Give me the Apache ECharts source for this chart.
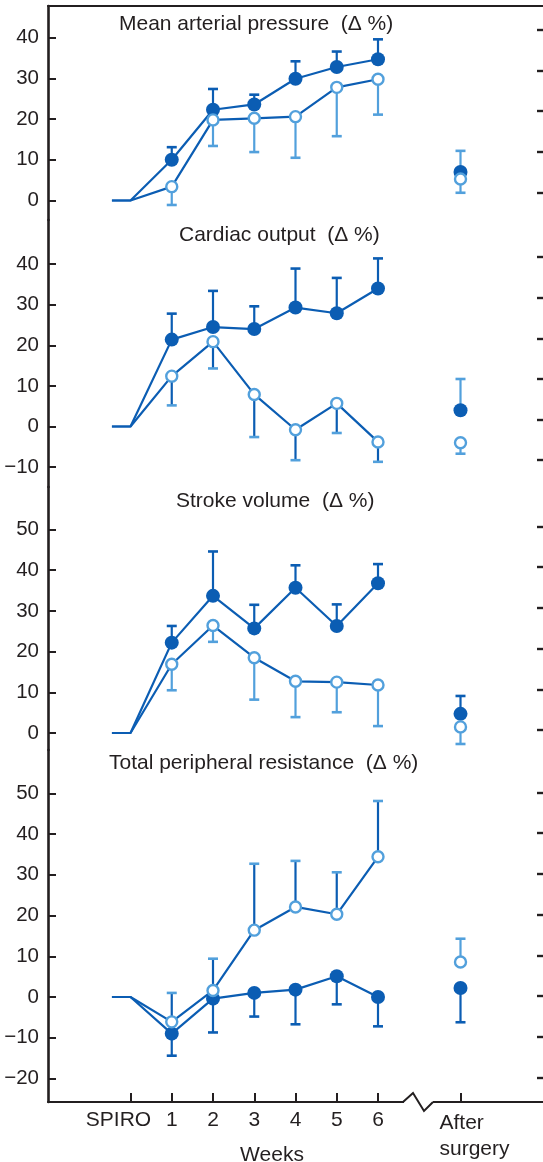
<!DOCTYPE html>
<html><head><meta charset="utf-8">
<script src="https://cdn.jsdelivr.net/npm/echarts@6/dist/echarts.min.js"></script>
<style>html,body{margin:0;padding:0;background:#fff}#c{width:543px;height:1162px}</style>
</head><body><div id="c"></div>
<script>
// ---------------- DATA ----------------
const weekX = [1, 2, 3, 4, 5, 6];
const afterX = 8;
const baselineX = [-0.45, 0];
const xTickValues = [0, 1, 2, 3, 4, 5, 6, 8];
const xTickLabels = ['SPIRO', '1', '2', '3', '4', '5', '6', 'After\nsurgery'];
const xAxisName = 'Weeks';

const panelTitles = [
  'Mean arterial pressure  (\u0394 %)',
  'Cardiac output  (\u0394 %)',
  'Stroke volume  (\u0394 %)',
  'Total peripheral resistance  (\u0394 %)'
];
const mapTicks = [0, 10, 20, 30, 40];
const coTicks = [-10, 0, 10, 20, 30, 40];
const svTicks = [0, 10, 20, 30, 40, 50];
const tprTicks = [-20, -10, 0, 10, 20, 30, 40, 50];

// Mean arterial pressure
const mapFilled = [10.0, 22.3, 23.6, 29.9, 32.8, 34.7];
const mapFilledCap = [13.1, 27.4, 26.0, 34.2, 36.6, 39.6];
const mapFilledAfter = 7.0;
const mapFilledAfterCaps = [];
const mapOpen = [3.4, 19.8, 20.2, 20.6, 27.8, 29.8];
const mapOpenCap = [-1.1, 13.4, 11.9, 10.5, 15.8, 21.1];
const mapOpenAfter = 5.3;
const mapOpenAfterCaps = [12.2, 1.9];

// Cardiac output
const coFilled = [21.4, 24.5, 24.0, 29.3, 27.9, 34.0];
const coFilledCap = [27.8, 33.4, 29.6, 38.9, 36.6, 41.4];
const coFilledAfter = 4.0;
const coFilledAfterCaps = [11.7];
const coOpen = [12.4, 20.9, 7.9, -0.8, 5.7, -3.8];
const coOpenCap = [5.2, 14.3, -2.6, -8.3, -1.6, -8.7];
const coOpenAfter = -4.0;
const coOpenAfterCaps = [-6.7];

// Stroke volume
const svFilled = [22.2, 33.7, 25.7, 35.7, 26.3, 36.8];
const svFilledCap = [26.3, 44.6, 31.5, 41.2, 31.6, 41.5];
const svFilledAfter = 4.7;
const svFilledAfterCaps = [9.1];
const svOpen = [16.9, 26.4, 18.5, 12.7, 12.5, 11.8];
const svOpenCap = [10.5, 22.4, 8.2, 3.9, 5.1, 1.7];
const svOpenAfter = 1.5;
const svOpenAfterCaps = [-2.7];

// Total peripheral resistance
const tprFilled = [-9.0, -0.4, 1.0, 1.8, 5.1, 0.0];
const tprFilledCap = [-14.4, -8.7, -4.8, -6.7, -1.8, -7.2];
const tprFilledAfter = 2.2;
const tprFilledAfterCaps = [-6.2];
const tprOpen = [-6.1, 1.6, 16.4, 22.1, 20.3, 34.4];
const tprOpenCap = [1.0, 9.4, 32.7, 33.4, 30.6, 48.1];
const tprOpenAfter = 8.6;
const tprOpenAfterCaps = [14.3];

// ---------------- STYLE / LAYOUT ----------------
const FONT = '"Liberation Sans", Arial, Helvetica, sans-serif';
const INK = '#231f20';
const DARK = '#0b5db3';
const LIGHT = '#52a0dc';
const W = 543, H = 1162;
const TITLE_FS = 21, YLAB_FS = 20.5, XLAB_FS = 21;

const panels = [
  {title: panelTitles[0], ticks: mapTicks, filled: mapFilled, filledCap: mapFilledCap, filledAfter: mapFilledAfter, filledAfterCaps: mapFilledAfterCaps,
   open: mapOpen, openCap: mapOpenCap, openAfter: mapOpenAfter, openAfterCaps: mapOpenAfterCaps,
   top: 6, bottom: 220, zeroY: 200.5, ppu: 4.07, rShift: 8, titleX: 119, titleY: 24.5, openStem: LIGHT, afterFilledColor: DARK},
  {title: panelTitles[1], ticks: coTicks, filled: coFilled, filledCap: coFilledCap, filledAfter: coFilledAfter, filledAfterCaps: coFilledAfterCaps,
   open: coOpen, openCap: coOpenCap, openAfter: coOpenAfter, openAfterCaps: coOpenAfterCaps,
   top: 220, bottom: 487, zeroY: 426.5, ppu: 4.06, rShift: 7, titleX: 179, titleY: 235.5, openStem: DARK, afterFilledColor: LIGHT},
  {title: panelTitles[2], ticks: svTicks, filled: svFilled, filledCap: svFilledCap, filledAfter: svFilledAfter, filledAfterCaps: svFilledAfterCaps,
   open: svOpen, openCap: svOpenCap, openAfter: svOpenAfter, openAfterCaps: svOpenAfterCaps,
   top: 487, bottom: 750, zeroY: 733, ppu: 4.07, rShift: 3, titleX: 176, titleY: 501, openStem: LIGHT, afterFilledColor: DARK},
  {title: panelTitles[3], ticks: tprTicks, filled: tprFilled, filledCap: tprFilledCap, filledAfter: tprFilledAfter, filledAfterCaps: tprFilledAfterCaps,
   open: tprOpen, openCap: tprOpenCap, openAfter: tprOpenAfter, openAfterCaps: tprOpenAfterCaps,
   top: 750, bottom: 1102, zeroY: 997, ppu: 4.075, rShift: 1, titleX: 109, titleY: 763, openStem: DARK, afterFilledColor: DARK}
];

function barRenderer(stem, cap) {
  return function (params, api) {
    const x = api.value(0), a = api.value(1), b = api.value(2);
    const p0 = api.coord([x, a]), p1 = api.coord([x, b]);
    return {type: 'group', children: [
      {type: 'line', shape: {x1: p0[0], y1: p0[1], x2: p1[0], y2: p1[1]}, style: {stroke: stem, lineWidth: 2.2}},
      {type: 'line', shape: {x1: p1[0] - 5, y1: p1[1], x2: p1[0] + 5, y2: p1[1]}, style: {stroke: cap, lineWidth: 2.6}}
    ]};
  };
}

const grid = [], xAxis = [], yAxis = [], series = [], graphic = [];

panels.forEach((p, i) => {
  grid.push({left: 48, right: 0, top: p.top, bottom: H - p.bottom, containLabel: false, outerBoundsMode: 'none'});
  const yMin = (p.zeroY - p.bottom) / p.ppu;
  const yMax = (p.zeroY - p.top) / p.ppu;
  const last = i === panels.length - 1;
  xAxis.push({
    gridIndex: i, type: 'value', min: -2, max: 10,
    position: i === 0 ? 'top' : 'bottom',
    axisLine: {show: i === 0 || last, onZero: false, lineStyle: {color: INK, width: 2.2}},
    axisTick: {show: last, inside: true, length: 9, customValues: xTickValues, lineStyle: {color: INK, width: 2}},
    axisLabel: {show: last, customValues: xTickValues, margin: 8, color: INK, fontFamily: FONT, fontSize: XLAB_FS,
      formatter: v => {
        const k = xTickValues.indexOf(v);
        const t = k >= 0 ? xTickLabels[k] : '';
        if (v === 0) return '{s|' + t + '}';
        if (v === afterX) return t.split('\n').map(s => '{a|' + s + '}').join('\n');
        return t;
      },
      rich: {
        s: {fontFamily: FONT, fontSize: XLAB_FS, color: INK, padding: [0, 24, 0, 0]},
        a: {fontFamily: FONT, fontSize: XLAB_FS, color: INK, lineHeight: 26, align: 'left', padding: [0, 0, 0, 28]}
      }
    },
    splitLine: {show: false},
    name: last ? xAxisName : '', nameLocation: 'middle', nameGap: 43, nameMoveOverlap: false,
    nameTextStyle: {color: INK, fontFamily: FONT, fontSize: XLAB_FS, padding: [0, 47, 0, 0]}
  });
  yAxis.push({
    gridIndex: i, type: 'value', min: yMin, max: yMax, position: 'left',
    axisLine: {show: true, onZero: false, lineStyle: {color: INK, width: 2.6}},
    axisTick: {show: true, inside: true, length: 8, customValues: p.ticks, lineStyle: {color: INK, width: 2}},
    axisLabel: {customValues: p.ticks, margin: 9, color: INK, fontFamily: FONT, fontSize: YLAB_FS,
      formatter: v => (v < 0 ? '\u2212' + Math.abs(v) : String(v))},
    splitLine: {show: false}
  });
  const sh = p.rShift / p.ppu;
  yAxis.push({
    gridIndex: i, type: 'value', min: yMin - sh, max: yMax - sh, position: 'right',
    axisLine: {show: false, onZero: false},
    axisTick: {show: true, inside: true, length: 6, customValues: p.ticks, lineStyle: {color: INK, width: 2.4}},
    axisLabel: {show: false}, splitLine: {show: false}
  });
  const yi = i * 2;

  const filledBars = weekX.map((x, k) => [x, p.filled[k], p.filledCap[k]]);
  const openBars = weekX.map((x, k) => [x, p.open[k], p.openCap[k]]);
  const afterFilledBars = p.filledAfterCaps.map(c => [afterX, p.filledAfter, c]);
  const afterOpenBars = p.openAfterCaps.map(c => [afterX, p.openAfter, c]);

  series.push({type: 'custom', xAxisIndex: i, yAxisIndex: yi, z: 1, renderItem: barRenderer(DARK, DARK), data: filledBars, silent: true});
  series.push({type: 'custom', xAxisIndex: i, yAxisIndex: yi, z: 1, renderItem: barRenderer(p.openStem, LIGHT), data: openBars, silent: true});
  series.push({type: 'custom', xAxisIndex: i, yAxisIndex: yi, z: 1, renderItem: barRenderer(p.afterFilledColor, p.afterFilledColor), data: afterFilledBars, silent: true});
  series.push({type: 'custom', xAxisIndex: i, yAxisIndex: yi, z: 1, renderItem: barRenderer(LIGHT, LIGHT), data: afterOpenBars, silent: true});

  const base = baselineX.map(x => [x, 0]);
  series.push({type: 'line', xAxisIndex: i, yAxisIndex: yi, z: 2, showSymbol: false, symbol: 'none', animation: false,
    lineStyle: {color: DARK, width: 2.2}, data: base.concat(weekX.map((x, k) => [x, p.filled[k]]))});
  series.push({type: 'line', xAxisIndex: i, yAxisIndex: yi, z: 2, showSymbol: false, symbol: 'none', animation: false,
    lineStyle: {color: DARK, width: 2.2}, data: base.concat(weekX.map((x, k) => [x, p.open[k]]))});

  series.push({type: 'scatter', xAxisIndex: i, yAxisIndex: yi, z: 3, symbol: 'circle', symbolSize: 14,
    itemStyle: {color: DARK, opacity: 1}, data: weekX.map((x, k) => [x, p.filled[k]]).concat([[afterX, p.filledAfter]])});
  series.push({type: 'scatter', xAxisIndex: i, yAxisIndex: yi, z: 4, symbol: 'circle', symbolSize: 11,
    itemStyle: {color: '#ffffff', borderColor: LIGHT, borderWidth: 2.4, opacity: 1},
    data: weekX.map((x, k) => [x, p.open[k]]).concat([[afterX, p.openAfter]])});

  graphic.push({type: 'text', x: p.titleX, y: p.titleY, z: 10,
    style: {text: p.title, fill: INK, font: TITLE_FS + 'px ' + FONT, textVerticalAlign: 'middle', textAlign: 'left'}});
});

// axis break on the bottom axis
graphic.push({type: 'rect', z: 20, shape: {x: 404, y: 1098, width: 29, height: 8}, style: {fill: '#ffffff'}});
graphic.push({type: 'polyline', z: 21, shape: {points: [[403, 1102], [413, 1093], [424, 1111], [433, 1102]]},
  style: {stroke: INK, lineWidth: 2, fill: null}});

const chart = echarts.init(document.getElementById('c'), null, {renderer: 'canvas', width: W, height: H});
chart.setOption({animation: false, backgroundColor: '#ffffff', grid, xAxis, yAxis, series, graphic});
</script></body></html>
